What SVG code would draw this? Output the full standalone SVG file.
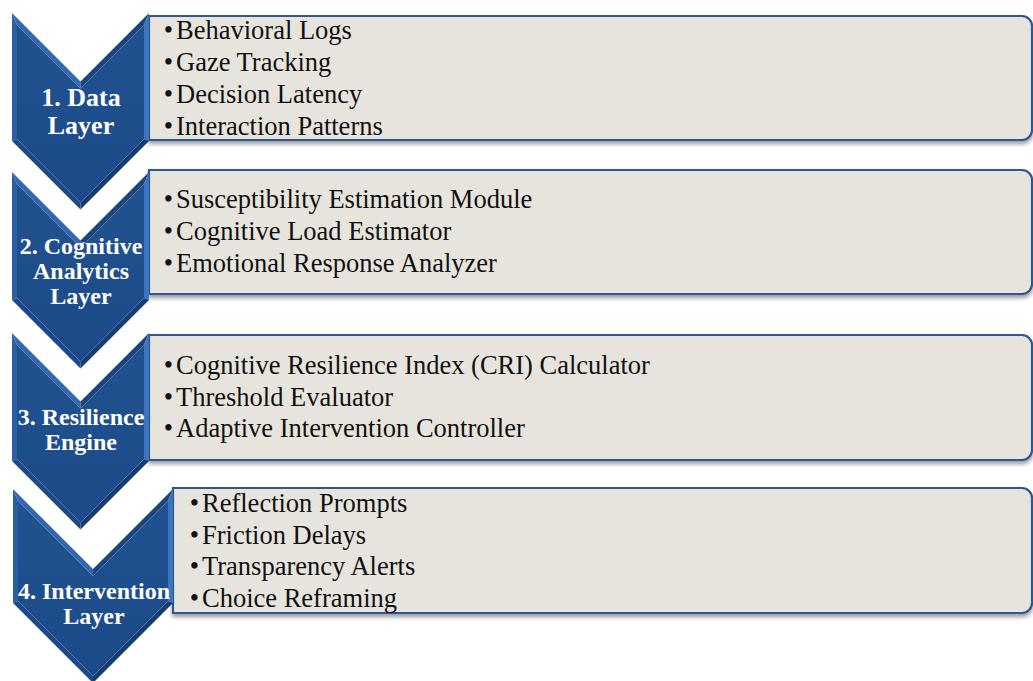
<svg xmlns="http://www.w3.org/2000/svg" xmlns:xlink="http://www.w3.org/1999/xlink" width="1033" height="681" viewBox="0 0 1033 681">
  <style>
    .box { fill: #e6e4dc; stroke: #2d5894; stroke-width: 2.2; filter: url(#boxShadow); }
    .face { fill: url(#chevFill); }
    .f-left { fill: #2b5fa4; }
    .f-tl { fill: #3468b0; }
    .f-tr { fill: #1c457e; }
    .f-right { fill: #3b74bf; }
    .f-br { fill: #173c70; }
    .f-bl { fill: #1d4885; }
    .lbl { font-family: "Liberation Serif", "Times New Roman", serif; font-weight: bold; font-size: 24px; fill: #ffffff; text-anchor: middle; }
    .lbl-big { font-size: 26px; }
    .item { font-family: "Liberation Serif", "Times New Roman", serif; font-size: 26.5px; fill: #111111; }
    .dot { font-family: "Liberation Serif", "Times New Roman", serif; font-size: 26.5px; fill: #111111; text-anchor: middle; }
  </style>
  <defs>
    <linearGradient id="chevFill" x1="0" y1="0" x2="0" y2="1">
      <stop offset="0" stop-color="#21528f"/>
      <stop offset="1" stop-color="#1c4a88"/>
    </linearGradient>
    <filter id="boxShadow" x="-5%" y="-10%" width="110%" height="130%">
      <feDropShadow dx="0" dy="3" stdDeviation="2" flood-color="#000" flood-opacity="0.4"/>
    </filter>
    <!-- bevelled chevron, 137 wide -->
    <g id="chevron">
      <polygon class="f-left" points="0,128 0,0 5,12.07 5,125.93"/>
      <polygon class="f-tl" points="0,0 68.5,68.5 68.5,75.57 5,12.07"/>
      <polygon class="f-tr" points="68.5,68.5 137,0 132,12.07 68.5,75.57"/>
      <polygon class="f-right" points="137,0 137,128 132,125.93 132,12.07"/>
      <polygon class="f-br" points="137,128 68.5,196.5 68.5,189.43 132,125.93"/>
      <polygon class="f-bl" points="68.5,196.5 0,128 5,125.93 68.5,189.43"/>
      <polygon class="face" points="5,12.07 68.5,75.57 132,12.07 132,125.93 68.5,189.43 5,125.93"/>
    </g>
    <!-- wider chevron for the last layer, 160 wide -->
    <g id="chevronWide">
      <polygon class="f-left" points="0,114 0,0 5,12.07 5,111.93"/>
      <polygon class="f-tl" points="0,0 80,80 80,87.07 5,12.07"/>
      <polygon class="f-tr" points="80,80 160,0 155,12.07 80,87.07"/>
      <polygon class="f-right" points="160,0 160,114 155,111.93 155,12.07"/>
      <polygon class="f-br" points="160,114 80,194 80,186.93 155,111.93"/>
      <polygon class="f-bl" points="80,194 0,114 5,111.93 80,186.93"/>
      <polygon class="face" points="5,12.07 80,87.07 155,12.07 155,111.93 80,186.93 5,111.93"/>
    </g>
  </defs>

  <g id="connectors"/>

  <!-- 1. Data Layer -->
  <g id="layer-1">
    <path class="box" d="M149,16 H1022 A10,10 0 0 1 1032,26 V130 A10,10 0 0 1 1022,140 H149 Z"/>
    <use xlink:href="#chevron" href="#chevron" transform="translate(12,13)"/>
    <text class="lbl lbl-big" x="81" y="106">1. Data</text>
    <text class="lbl lbl-big" x="81" y="134">Layer</text>
    <text class="dot" x="168.5" y="39">•</text><text class="item" x="176" y="39">Behavioral Logs</text>
    <text class="dot" x="168.5" y="71">•</text><text class="item" x="176" y="71">Gaze Tracking</text>
    <text class="dot" x="168.5" y="103">•</text><text class="item" x="176" y="103">Decision Latency</text>
    <text class="dot" x="168.5" y="135">•</text><text class="item" x="176" y="135">Interaction Patterns</text>
  </g>

  <!-- 2. Cognitive Analytics Layer -->
  <g id="layer-2">
    <path class="box" d="M149,170 H1022 A10,10 0 0 1 1032,180 V284 A10,10 0 0 1 1022,294 H149 Z"/>
    <use xlink:href="#chevron" href="#chevron" transform="translate(12,172)"/>
    <text class="lbl" x="81" y="254">2. Cognitive</text>
    <text class="lbl" x="81" y="279">Analytics</text>
    <text class="lbl" x="81" y="304">Layer</text>
    <text class="dot" x="168.5" y="208">•</text><text class="item" x="176" y="208">Susceptibility Estimation Module</text>
    <text class="dot" x="168.5" y="240">•</text><text class="item" x="176" y="240">Cognitive Load Estimator</text>
    <text class="dot" x="168.5" y="272">•</text><text class="item" x="176" y="272">Emotional Response Analyzer</text>
  </g>

  <!-- 3. Resilience Engine -->
  <g id="layer-3">
    <path class="box" d="M149,335 H1022 A10,10 0 0 1 1032,345 V450 A10,10 0 0 1 1022,460 H149 Z"/>
    <use xlink:href="#chevron" href="#chevron" transform="translate(12,333)"/>
    <text class="lbl" x="81" y="425">3. Resilience</text>
    <text class="lbl" x="81" y="450">Engine</text>
    <text class="dot" x="168.5" y="374">•</text><text class="item" x="176" y="374">Cognitive Resilience Index (CRI) Calculator</text>
    <text class="dot" x="168.5" y="405.5">•</text><text class="item" x="176" y="405.5">Threshold Evaluator</text>
    <text class="dot" x="168.5" y="437">•</text><text class="item" x="176" y="437">Adaptive Intervention Controller</text>
  </g>

  <!-- 4. Intervention Layer -->
  <g id="layer-4">
    <path class="box" d="M173,488 H1022 A10,10 0 0 1 1032,498 V603 A10,10 0 0 1 1022,613 H173 Z"/>
    <use xlink:href="#chevronWide" href="#chevronWide" transform="translate(13,489)"/>
    <text class="lbl" x="94" y="599">4. Intervention</text>
    <text class="lbl" x="94" y="624">Layer</text>
    <text class="dot" x="194.5" y="512">•</text><text class="item" x="202" y="512">Reflection Prompts</text>
    <text class="dot" x="194.5" y="543.5">•</text><text class="item" x="202" y="543.5">Friction Delays</text>
    <text class="dot" x="194.5" y="575">•</text><text class="item" x="202" y="575">Transparency Alerts</text>
    <text class="dot" x="194.5" y="607">•</text><text class="item" x="202" y="607">Choice Reframing</text>
  </g>
</svg>
